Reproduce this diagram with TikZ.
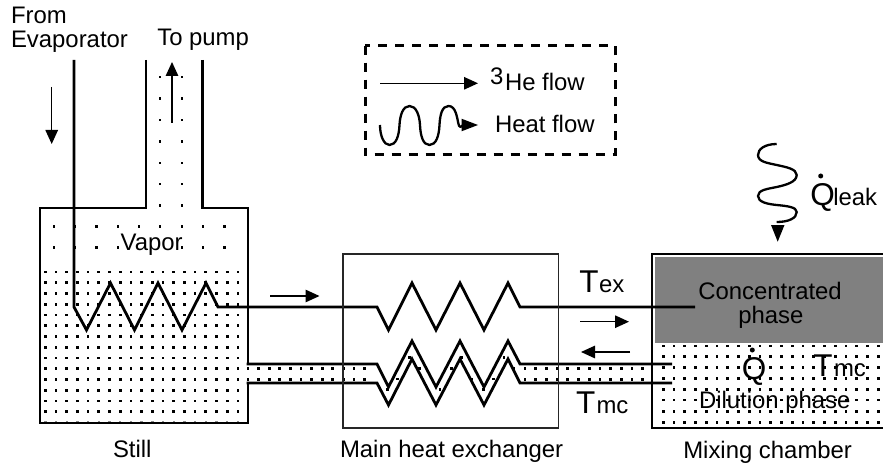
\documentclass[tikz,border=0pt]{standalone}
\usepackage{fontspec}
\setmainfont{Liberation Sans}
\usetikzlibrary{arrows.meta}
\newcommand{\fs}{\fontsize{23.9}{28}\selectfont}
\newcommand{\fb}{\fontsize{31.5}{36}\selectfont}
\tikzset{
  x=1pt,y=-1pt,
  pipe/.style={line width=2.8pt,line join=miter,line cap=butt},
  flow/.style={line width=1.3pt,-{Triangle[length=14pt,width=12.5pt]}},
  heat/.style={line width=2.3pt},
  head/.style={fill=black,draw=none},
  lbl/.style={anchor=base west,inner sep=0pt,outer sep=0pt,font=\fs,text=black},
  lblbig/.style={anchor=base west,inner sep=0pt,outer sep=0pt,font=\fb,text=black},
  speck/.style={fill=black,draw=none},
}
\newcommand{\dotat}[2]{\fill[speck] (#1-1.35,#2-1.35) rectangle (#1+1.35,#2+1.35);}
\begin{document}
\begin{tikzpicture}
\useasboundingbox (0,0) rectangle (883,465);
% gray concentrated phase
\fill[fill=black!50] (655,257) rectangle (883,343);
% dots: still liquid
\foreach \i in {0,...,18}{\foreach \j in {0,...,13}{
  \pgfmathsetmacro\px{45.3+10.7*\i}\pgfmathsetmacro\py{272+10.75*\j}
  \dotat{\px}{\py}}}
% faint last row in still
\foreach \i in {0,...,18}{
  \pgfmathsetmacro\px{45.3+10.7*\i}
  \fill[black!45] (\px-1.2,420.6) rectangle (\px+1.2,421.4);}
% dots: vapor
\foreach \x in {54,75,96.3,118,139,160,182,203,224.7}{\dotat{\x}{226.7}}
\foreach \x in {54,75,96.3,118,182,203,224.7}{\dotat{\x}{247.5}}
% dots: neck
\foreach \y in {77,98.7,120,141.5,163,184,205.7}{\dotat{160}{\y}\dotat{182}{\y}}
% dots: tubes
\foreach \y in {368.5,379.3}{
  \foreach \k in {0,...,11}{\pgfmathsetmacro\px{248+10.6*\k}\dotat{\px}{\y}}
  \foreach \k in {0,...,11}{\pgfmathsetmacro\px{525+10.7*\k}\dotat{\px}{\y}}
}
% dots: inside the exchanger coil
\foreach \x/\y in {409.3/357.3,419.3/368.3,397.3/379,387.3/389.3,440/389.3,451.7/368.3,461.7/357.3,471.7/379,483.3/389.3,493.3/379,504/357.3,514/368.3}{\dotat{\x}{\y}}
% dots: dilution phase
\foreach \i in {0,...,20}{\foreach \y in {346,356.7,367.3,378.3,389.3,400,411.7,422.7}{
  \pgfmathsetmacro\px{663.3+10.75*\i}
  \dotat{\px}{\y}}}
% still outline
\draw[pipe] (146,60) -- (146,208) -- (40,208) -- (40,423) -- (248,423) -- (248,383);
\draw[pipe] (202.5,60) -- (202.5,208) -- (248,208) -- (248,364);
% coil 1
\draw[pipe] (74,60) -- (74,307) -- (86.5,330) -- (110.5,283) -- (134.5,330) -- (158,283) -- (182,330) -- (206,283) -- (218,307)
  -- (377,307) -- (388.5,330) -- (412,283) -- (436,330) -- (460,283) -- (484,330) -- (508,283) -- (520,307) -- (695,307);
% coils 2, 3
\draw[pipe] (246.6,364) -- (377,364) -- (388.5,387) -- (412,341) -- (436,387) -- (460,341) -- (484,387) -- (508,341) -- (520,364) -- (672,364);
\draw[pipe] (246.6,383) -- (377,383) -- (388.5,405) -- (412,359) -- (436,405) -- (460,359) -- (484,405) -- (508,359) -- (520,383) -- (672,383);
% heat exchanger box
\draw[line width=1.2pt,draw=black!85] (343,254) rectangle (558.5,428);
% mixing chamber
\draw[pipe] (883,254) -- (652,254) -- (652,428) -- (883,428);
% arrows
\coordinate (a1s) at (51.7,87); \coordinate (a1e) at (51.7,144);
\coordinate (a2s) at (172,122.7); \coordinate (a2e) at (172,62);
\coordinate (a3s) at (270,296); \coordinate (a3e) at (319.5,296);
\coordinate (a4s) at (580,321.7); \coordinate (a4e) at (629,321.7);
\coordinate (a5s) at (630,352); \coordinate (a5e) at (581,352);
\coordinate (a6s) at (380,83.3); \coordinate (a6e) at (478,83.3);
\foreach \s/\e in {a1s/a1e,a2s/a2e,a3s/a3e,a4s/a4e,a5s/a5e,a6s/a6e}{\draw[flow] (\s) -- (\e);}
% legend frame
\draw[line width=3pt,dash pattern=on 9pt off 8pt] (365,45.7) rectangle (615,155);
% legend heat wave
\draw[heat] (380,125) .. controls (380,136) and (384,145) .. (389.5,145)
  .. controls (396,145) and (399,136) .. (399.5,125)
  .. controls (400,115) and (403,106) .. (409.5,106)
  .. controls (416,106) and (419.5,115) .. (420,125)
  .. controls (420.5,136) and (423,145) .. (429.5,145)
  .. controls (436,145) and (439,136) .. (439.5,125)
  .. controls (440,115) and (442,106) .. (448.5,106)
  .. controls (456,106) and (457,118) .. (458.5,124)
  .. controls (459,127) and (461,128) .. (463,125);
\fill[head] (478,125) -- (461.5,118.7) -- (461.5,131.3) -- cycle;
% leak heat wave
\draw[heat] (776.7,144) .. controls (765,144) and (758,149) .. (758,155)
  .. controls (758,162) and (768,163) .. (776.7,165)
  .. controls (786,167) and (796.7,169) .. (796.7,175)
  .. controls (796.7,182) and (786,185) .. (776.7,187)
  .. controls (767,189) and (758,190) .. (758,196)
  .. controls (758,202) and (767,204) .. (776.7,205)
  .. controls (787,206) and (796.7,207) .. (796.7,212)
  .. controls (796.7,218) and (789,222) .. (776.7,222);
\fill[head] (777.7,241.7) -- (771,225) -- (784.5,225) -- cycle;
% labels
\node[lbl] (from) at (11,24) {From};
\node[lbl] (evap) at (11,48) {Evaporator};
\node[lbl] (pump) at (157.3,45.7) {To pump};
\node[lbl] (vapor) at (120.7,250) {Vapor};
\node[lbl] (still) at (113,457.7) {Still};
\node[lbl] (mhe) at (340,457.5) {Main heat exchanger};
\node[lbl] (mix) at (683.3,458) {Mixing chamber};
\node[lbl] (three) at (490,85) {3};
\node[lbl] (he) at (505,91) {He flow};
\node[lbl] (hf) at (495,132.7) {Heat flow};
\node[lblbig] (tex) at (579.3,292.7) {T};
\node[lbl] (texs) at (599,292.7) {ex};
\node[lblbig] (tmc) at (576,413.3) {T};
\node[lbl] (tmcs) at (596.5,413.3) {mc};
\node[lblbig] (tmi) at (813.3,376.7) {T};
\node[lbl] (tmis) at (834,376.7) {mc};
\node[lblbig] (ql) at (810.3,206) {Q};
\node[lbl] (qls) at (833.3,206) {leak};
\node[lblbig] (qm) at (741.8,379.3) {Q};
\fill (820.7,176) circle (2.5pt);
\fill (752.3,350) circle (2.5pt);
\node[lbl] (dil) at (699,408.3) {Dilution phase};
\node[lbl] (con) at (698.3,299.3) {Concentrated};
\node[lbl] (pha) at (738.3,323.3) {phase};
\end{tikzpicture}
\end{document}
